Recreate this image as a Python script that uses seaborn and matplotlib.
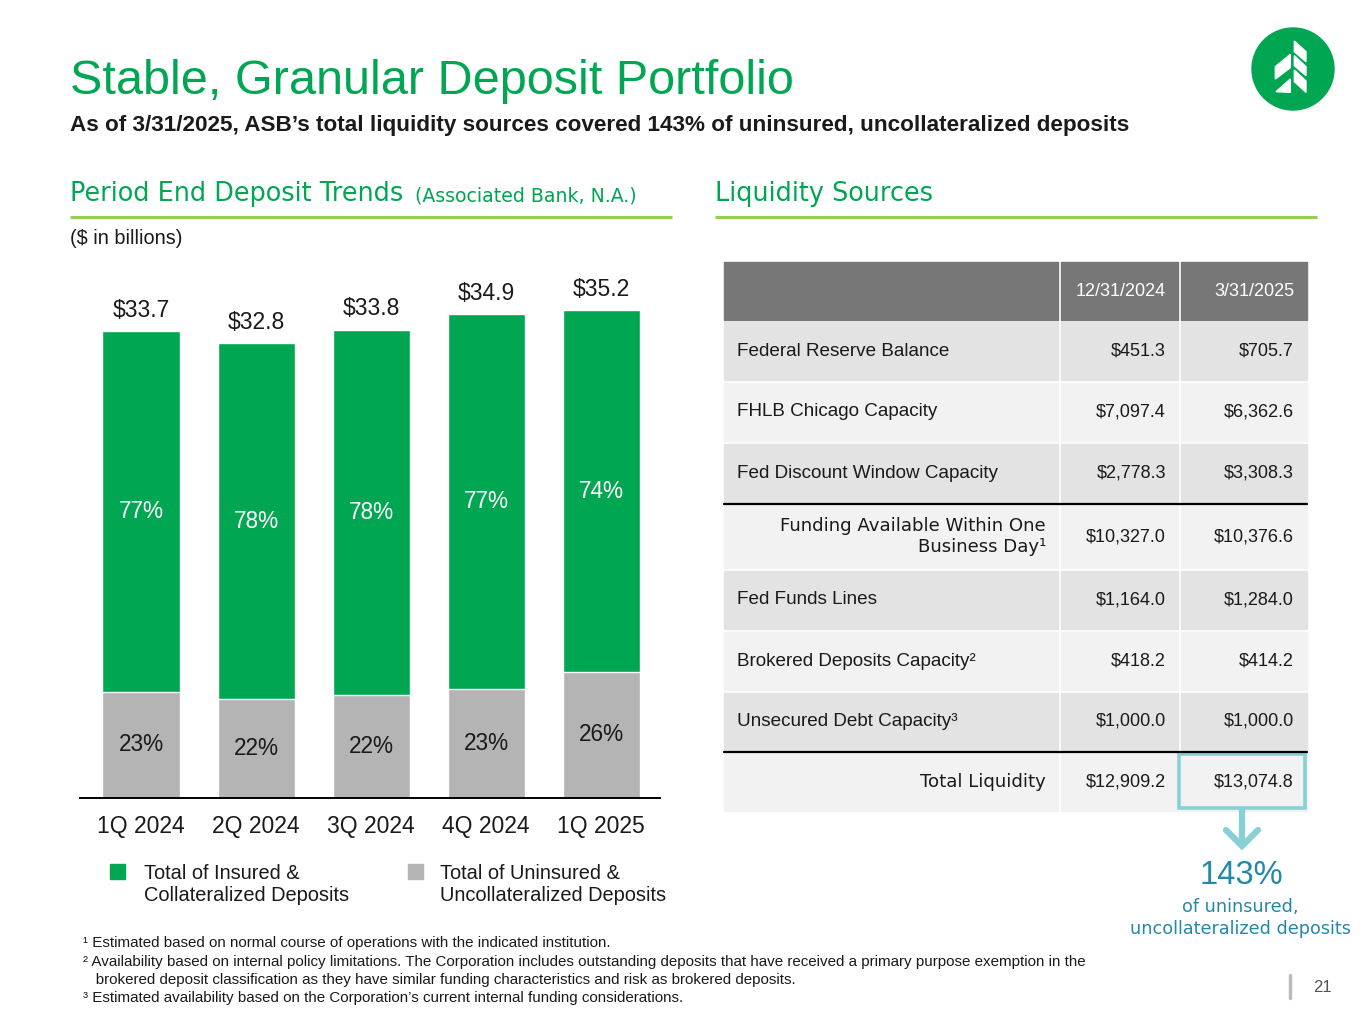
import matplotlib
matplotlib.use("Agg")
import matplotlib.pyplot as plt
import matplotlib.patches as ptc
import seaborn as sns
import pandas as pd
import numpy as np

# ---- data ----
quarters = ["1Q 2024", "2Q 2024", "3Q 2024", "4Q 2024", "1Q 2025"]
total_deposits = [33.7, 32.8, 33.8, 34.9, 35.2]
uninsured_deposits = [7.65, 7.15, 7.45, 7.85, 9.1]
insured_pct = ["77%", "78%", "78%", "77%", "74%"]
uninsured_pct = ["23%", "22%", "22%", "23%", "26%"]

table_cols = ["12/31/2024", "3/31/2025"]
table_rows = ["Federal Reserve Balance", "FHLB Chicago Capacity", "Fed Discount Window Capacity",
              "Funding Available Within One\nBusiness Day\u00b9", "Fed Funds Lines",
              "Brokered Deposits Capacity\u00b2", "Unsecured Debt Capacity\u00b3", "Total Liquidity"]
liq_2024 = [451.3, 7097.4, 2778.3, 10327.0, 1164.0, 418.2, 1000.0, 12909.2]
liq_2025 = [705.7, 6362.6, 3308.3, 10376.6, 1284.0, 414.2, 1000.0, 13074.8]
coverage = "143%"

footnotes = [
    "\u00b9 Estimated based on normal course of operations with the indicated institution.",
    "\u00b2 Availability based on internal policy limitations. The Corporation includes outstanding deposits that have received a primary purpose exemption in the",
    "   brokered deposit classification as they have similar funding characteristics and risk as brokered deposits.",
    "\u00b3 Estimated availability based on the Corporation\u2019s current internal funding considerations.",
]

GREEN = "#00A651"
GRAY = "#B4B4B4"
LIME = "#92D050"
TEAL = "#86D0D6"
TEAL_TXT = "#2389A8"
INK = "#1a1a1a"
FONT = "Liberation Sans"

sns.set_theme(style="white")
plt.rcParams["font.family"] = [FONT, "DejaVu Sans"]

fig = plt.figure(figsize=(13.65, 10.24), dpi=100)

# overlay in pixel coordinates for the slide furniture
ov = fig.add_axes([0, 0, 1, 1])
ov.set_xlim(0, 1365)
ov.set_ylim(1024, 0)
ov.axis("off")

# ---- bar chart ----
df = pd.DataFrame({"quarter": quarters, "total": total_deposits, "uninsured": uninsured_deposits})
ax = fig.add_axes([80 / 1365, (1024 - 798) / 1024, 580 / 1365, (798 - 250) / 1024])
ax.set_facecolor("none")
sns.barplot(data=df, x="quarter", y="total", color=GREEN, saturation=1, width=0.67, ax=ax)
sns.barplot(data=df, x="quarter", y="uninsured", color=GRAY, saturation=1, width=0.67, ax=ax)
ax.set_ylim(0, 548 / 13.86)
ax.set_xlim(-0.53, 4.51)
ax.set_xlabel("")
ax.set_ylabel("")
ax.set_yticks([])
sns.despine(ax=ax, left=True)
ax.spines["bottom"].set_color("black")
ax.spines["bottom"].set_linewidth(1.4)
ax.tick_params(axis="x", length=0, pad=12, labelsize=16.5, labelcolor=INK)

for i in range(len(quarters)):
    t = total_deposits[i]
    u = uninsured_deposits[i]
    ax.text(i, (t + u) / 2, insured_pct[i], ha="center", va="center", color="white", fontsize=16.3)
    ax.text(i, u / 2, uninsured_pct[i], ha="center", va="center", color=INK, fontsize=16.3)
    ax.annotate(f"${t:.1f}", (i, t), xytext=(0, 15), textcoords="offset points",
                ha="center", va="center", fontsize=16.5, color=INK)

# legend (manual so squares align to first line)
ov.add_patch(ptc.Rectangle((110, 864), 15, 15, color=GREEN))
ov.text(144, 864, "Total of Insured &\nCollateralized Deposits", va="top", ha="left",
        fontsize=14.4, color=INK, linespacing=1.2)
ov.add_patch(ptc.Rectangle((408, 864), 15, 15, color=GRAY))
ov.text(440, 864, "Total of Uninsured &\nUncollateralized Deposits", va="top", ha="left",
        fontsize=14.4, color=INK, linespacing=1.2)

# ---- titles ----
ov.text(70, 94, "Stable, Granular Deposit Portfolio", fontsize=35, color=GREEN, va="baseline", ha="left")
ov.text(70, 126, "As of 3/31/2025, ASB\u2019s total liquidity sources covered 143% of uninsured, uncollateralized deposits",
        fontsize=16.2, fontweight="bold", color=INK, va="center", ha="left")
ov.text(70, 194, "Period End Deposit Trends", fontsize=18.4, color=GREEN, va="center", ha="left",
        family=["DejaVu Sans"])
ov.text(415, 196, "(Associated Bank, N.A.)", fontsize=13.6, color=GREEN, va="center", ha="left",
        family=["DejaVu Sans"])
ov.text(715, 194, "Liquidity Sources", fontsize=18.4, color=GREEN, va="center", ha="left",
        family=["DejaVu Sans"])
ov.plot([70, 672], [217, 217], color=LIME, lw=2.2, solid_capstyle="butt")
ov.plot([715, 1317], [217, 217], color=LIME, lw=2.2, solid_capstyle="butt")
ov.text(70, 238, "($ in billions)", fontsize=14.3, color=INK, va="center", ha="left")

# ---- logo ----
ov.add_patch(ptc.Circle((1293, 69), 41, color=GREEN))
zoom_polys = [
    [(97, 18), (132, 50), (132, 80), (97, 50)],
    [(97, 62), (132, 95), (132, 122), (97, 92)],
    [(97, 105), (132, 138), (132, 172), (97, 140)],
    [(40, 95), (85, 58), (85, 98), (40, 132)],
    [(42, 170), (85, 132), (85, 172)],
]
for poly in zoom_polys:
    pts = [(1262 + zx / 3, 35 + zy / 3) for zx, zy in poly]
    ov.add_patch(ptc.Polygon(pts, closed=True, color="white"))

# ---- liquidity table ----
col_x = [(724, 1058), (1061, 1178), (1181, 1307)]
row_y = [(322, 380), (383, 441), (444, 502), (505, 568), (571, 629), (632, 690), (693, 750), (753, 811)]
for (x0, x1) in col_x:
    ov.add_patch(ptc.Rectangle((x0, 262), x1 - x0, 58, color="#777777"))
ov.text(1166, 291, table_cols[0], ha="right", va="center", color="white", fontsize=13)
ov.text(1294, 291, table_cols[1], ha="right", va="center", color="white", fontsize=13)

for r, (y0, y1) in enumerate(row_y):
    shade = "#E3E3E3" if r % 2 == 0 else "#F2F2F2"
    for (x0, x1) in col_x:
        ov.add_patch(ptc.Rectangle((x0, y0), x1 - x0, y1 - y0, color=shade))
    yc = (y0 + y1) / 2
    label = table_rows[r]
    if r in (3, 7):
        ov.text(1046, yc, label, ha="right", va="center", fontsize=13.1, color=INK,
                family=["DejaVu Sans"], multialignment="right", linespacing=1.2)
    else:
        ov.text(737, yc, label, ha="left", va="center", fontsize=13.6, color=INK)
    ov.text(1166, yc, f"${liq_2024[r]:,.1f}", ha="right", va="center", fontsize=13, color=INK)
    ov.text(1294, yc, f"${liq_2025[r]:,.1f}", ha="right", va="center", fontsize=13, color=INK)

ov.plot([724, 1307], [503.5, 503.5], color="black", lw=1.6)
ov.plot([724, 1307], [751.5, 751.5], color="black", lw=1.6)

# highlight box + arrow
ov.add_patch(ptc.Rectangle((1179, 754), 126, 54, fill=False, edgecolor=TEAL, lw=2.6))
ov.plot([1242, 1242], [808, 845], color=TEAL, lw=4.5, solid_capstyle="butt")
ov.plot([1226, 1242, 1258], [830, 846, 830], color=TEAL, lw=4.5, solid_joinstyle="miter")
ov.text(1241, 876, coverage, ha="center", va="center", fontsize=23.5, color=TEAL_TXT)
ov.text(1240, 907, "of uninsured,", ha="center", va="center", fontsize=12.7, color=TEAL_TXT,
        family=["DejaVu Sans"])
ov.text(1240, 929, "uncollateralized deposits", ha="center", va="center", fontsize=12.7, color=TEAL_TXT,
        family=["DejaVu Sans"])

# ---- footnotes ----
for yy, line in zip([943, 962, 980, 998], footnotes):
    ov.text(83, yy, line, ha="left", va="center", fontsize=10.9, color=INK)

ov.plot([1290, 1290], [975, 998], color="#BBBBBB", lw=2.5)
ov.text(1322, 988, "21", ha="center", va="center", fontsize=12, color="#555555")

plt.savefig("out.png", dpi=100)
